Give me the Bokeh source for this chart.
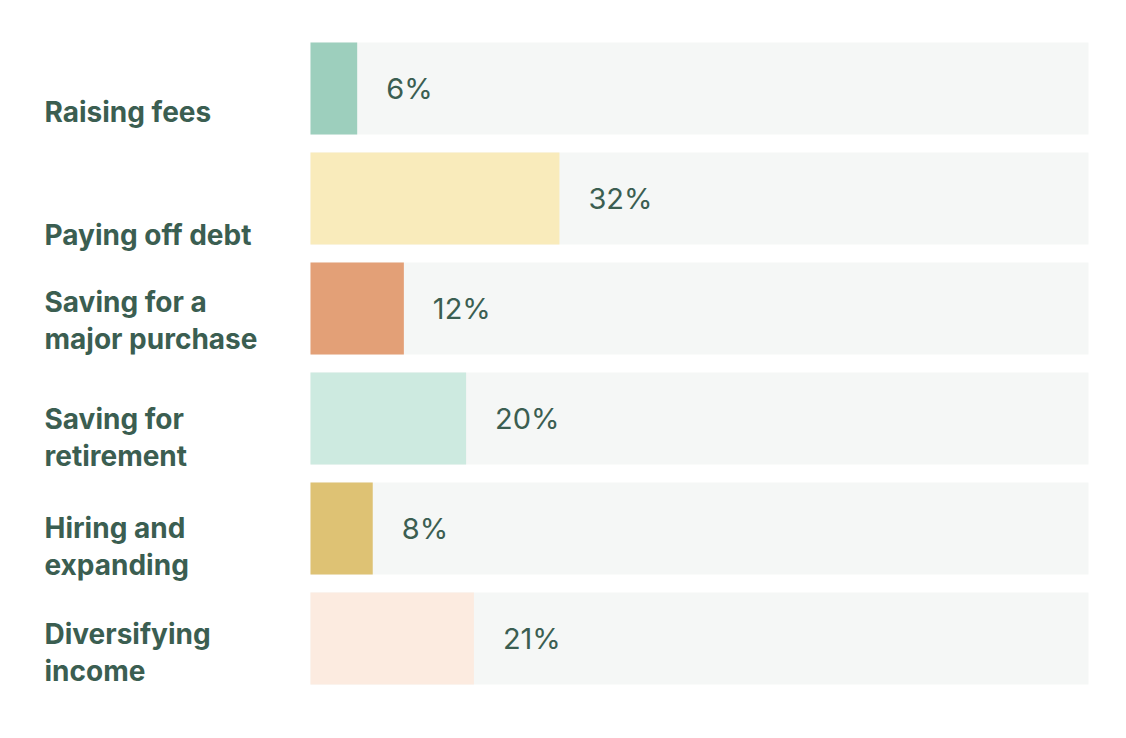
from bokeh.plotting import figure
from bokeh.models import ColumnDataSource, Range1d
from bokeh.core.properties import value
from bokeh.embed import file_html
from bokeh.resources import INLINE

categories = ["Raising fees", "Paying off debt", "Saving for a\nmajor purchase",
              "Saving for\nretirement", "Hiring and\nexpanding", "Diversifying\nincome"]
values = [6, 32, 12, 20, 8, 21]
colors = ["#9dcfbd", "#f9ebbb", "#e3a077", "#cdeae0", "#dec274", "#fcebe0"]
label_dy = [23, 36, 12, 19, 18, 14]  # label vertical nudges (px)

TEXT = "#3b5e51"
BG = "#f5f7f6"

W, H = 1110, 722
px_per_unit_x = 7.78
x0_px = 310  # canvas px where 0% sits
row_px = 110
y0_px = 88

idx = list(range(len(categories)))
src = ColumnDataSource(dict(
    y=idx, v=values, full=[100] * len(values), c=colors,
    lab=categories, pct=[f"{v}%" for v in values], dy=label_dy,
))

p = figure(width=W, height=H, output_backend="svg", toolbar_location=None,
           x_range=Range1d(-x0_px / px_per_unit_x, (W - x0_px) / px_per_unit_x),
           y_range=Range1d((H - y0_px) / row_px, -y0_px / row_px),
           min_border=0, outline_line_color=None)
p.axis.visible = False
p.grid.visible = False
p.background_fill_color = "white"
p.border_fill_color = "white"

bh = 92 / row_px
p.hbar(y="y", left=0, right="full", height=bh, source=src, fill_color=BG, line_color=None)
p.hbar(y="y", left=0, right="v", height=bh, source=src, fill_color="c", line_color=None)

p.text(x="v", y="y", text="pct", source=src, x_offset=29, y_offset=0,
       text_font=value("Inter"), text_font_size="29px", text_color=TEXT,
       text_baseline="middle", text_align="left")

p.text(x=0, y="y", text="lab", source=src, x_offset=-266, y_offset="dy",
       text_font=value("Inter"), text_font_style="bold", text_font_size="28px",
       text_color=TEXT, text_baseline="middle", text_align="left",
       text_line_height=1.07)

open("out.html", "w").write(file_html(p, INLINE))
